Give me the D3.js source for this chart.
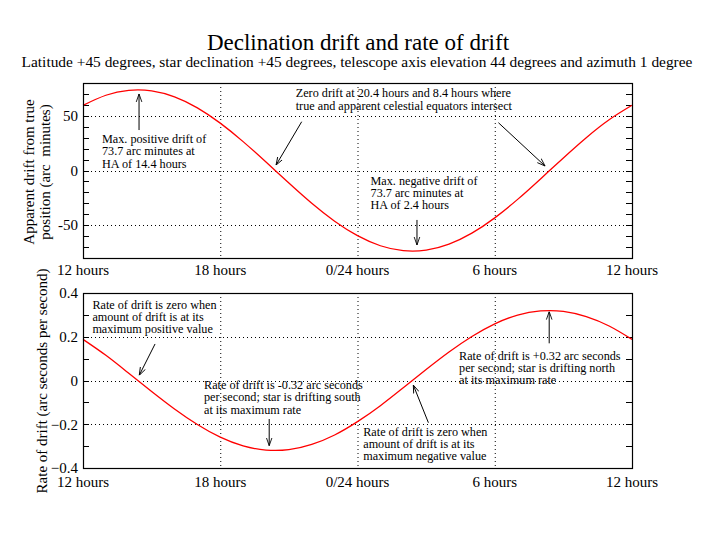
<!DOCTYPE html>
<html>
<head>
<meta charset="utf-8">
<script src="https://cdnjs.cloudflare.com/ajax/libs/d3/7.8.5/d3.min.js"></script>
<style>
    body { margin: 0; background: #fff; }
    svg text { font-family: "Liberation Serif", "Times New Roman", serif; fill: #000; white-space: pre; }
</style>
</head>
<body>
<div id="chart"></div>
<script>

// hour angle, unwrapped: 12 .. 36 (36 == 12 hours again)
var hours = [12, 13, 14, 15, 16, 17, 18, 19, 20, 21, 22, 23, 24,
             25, 26, 27, 28, 29, 30, 31, 32, 33, 34, 35, 36];

// apparent drift from true position (arc minutes)
var driftValues = [59.6, 68.8, 73.3, 72.8, 67.3, 57.3, 43.3, 26.4, 7.7, -11.5, -30.0, -46.4, -59.6,
                   -68.8, -73.3, -72.8, -67.3, -57.3, -43.3, -26.4, -7.7, 11.5, 30.0, 46.4, 59.6];

// rate of drift (arc seconds per second)
var rateValues = [0.188, 0.115, 0.033, -0.050, -0.130, -0.201, -0.259, -0.299, -0.318, -0.316, -0.292, -0.249, -0.188,
                  -0.115, -0.033, 0.050, 0.130, 0.201, 0.259, 0.299, 0.318, 0.316, 0.292, 0.249, 0.188];

var xTicks = [12, 18, 24, 30, 36];
var xTickLabels = ["12 hours", "18 hours", "0/24 hours", "6 hours", "12 hours"];

var driftTicks = [-50, 0, 50];
var driftMinorTicks = [-70, -60, -50, -40, -30, -20, -10, 0, 10, 20, 30, 40, 50, 60, 70];
var rateTicks = [-0.4, -0.2, 0, 0.2, 0.4];
var rateMinorTicks = [-0.3, -0.2, -0.1, 0, 0.1, 0.2, 0.3];

var titleText = "Declination drift and rate of drift";
var subtitleText = "Latitude +45 degrees, star declination +45 degrees, telescope axis elevation 44 degrees and azimuth 1 degree";


var W = 713, H = 551;

var svg = d3.select("#chart").append("svg")
    .attr("width", W)
    .attr("height", H);

// open v arrow head
svg.append("defs").append("marker")
    .attr("id", "arrow")
    .attr("viewBox", "0 0 10 10")
    .attr("refX", 10)
    .attr("refY", 5)
    .attr("markerWidth", 8)
    .attr("markerHeight", 8)
    .attr("markerUnits", "userSpaceOnUse")
    .attr("orient", "auto")
    .append("path")
    .attr("d", "M0,1.5 L10,5 L0,8.5")
    .attr("fill", "none")
    .attr("stroke", "#000")
    .attr("stroke-width", 1.1);

svg.append("text")
    .attr("x", 358)
    .attr("y", 50)
    .attr("text-anchor", "middle")
    .style("font-size", "23px")
    .text(titleText);

svg.append("text")
    .attr("x", 357)
    .attr("y", 67)
    .attr("text-anchor", "middle")
    .style("font-size", "15.4px")
    .text(subtitleText);


/**
 * one panel: frame, grid, ticks, curve and notes
 */
DriftPanel = function(_svg, _opts) {
    this.svg = _svg;
    this.opts = _opts;

    this.left = 83;
    this.right = 632;
    this.top = _opts.top;
    this.bottom = _opts.bottom;

    this.initVis();
};

DriftPanel.prototype.initVis = function() {
    var that = this;
    var o = this.opts;

    this.x = d3.scaleLinear().domain([12, 36]).range([this.left, this.right]);
    this.y = d3.scaleLinear().domain(o.domain).range([this.bottom, this.top]);

    this.g = this.svg.append("g");

    // dotted grid
    this.g.selectAll(".vgrid")
        .data([18, 24, 30])
        .enter().append("line")
        .attr("x1", function(d) { return that.x(d) + 0.5; })
        .attr("x2", function(d) { return that.x(d) + 0.5; })
        .attr("y1", this.top)
        .attr("y2", this.bottom)
        .attr("stroke", "#000")
        .attr("stroke-dasharray", "1,3");

    this.g.selectAll(".hgrid")
        .data(o.grid)
        .enter().append("line")
        .attr("x1", this.left)
        .attr("x2", this.right)
        .attr("y1", function(d) { return Math.round(that.y(d)) + 0.5; })
        .attr("y2", function(d) { return Math.round(that.y(d)) + 0.5; })
        .attr("stroke", "#000")
        .attr("stroke-dasharray", "1,3");

    // small inner ticks on both sides
    var ticks = this.g.selectAll(".mtick")
        .data(o.minor)
        .enter();
    ticks.append("line")
        .attr("x1", this.left)
        .attr("x2", this.left + 6)
        .attr("y1", function(d) { return Math.round(that.y(d)) + 0.5; })
        .attr("y2", function(d) { return Math.round(that.y(d)) + 0.5; })
        .attr("stroke", "#000");
    ticks.append("line")
        .attr("x1", this.right)
        .attr("x2", this.right - 6)
        .attr("y1", function(d) { return Math.round(that.y(d)) + 0.5; })
        .attr("y2", function(d) { return Math.round(that.y(d)) + 0.5; })
        .attr("stroke", "#000");

    // curve
    var pts = hours.map(function(h, i) { return [h, o.values[i]]; });
    var line = d3.line()
        .x(function(d) { return that.x(d[0]); })
        .y(function(d) { return that.y(d[1]); })
        .curve(d3.curveNatural);

    this.g.append("path")
        .datum(pts)
        .attr("d", line)
        .attr("fill", "none")
        .attr("stroke", "#ff0000")
        .attr("stroke-width", 1.3);

    // frame
    this.g.append("rect")
        .attr("x", this.left + 0.5)
        .attr("y", this.top + 0.5)
        .attr("width", this.right - this.left)
        .attr("height", this.bottom - this.top)
        .attr("fill", "none")
        .attr("stroke", "#000")
        .attr("stroke-width", 1.2);

    // y tick labels
    this.g.selectAll(".ylab")
        .data(o.ticks)
        .enter().append("text")
        .attr("x", this.left - 5)
        .attr("y", function(d) { return that.y(d); })
        .attr("dy", "0.35em")
        .attr("text-anchor", "end")
        .style("font-size", "15px")
        .text(o.format);

    // x tick labels
    this.g.selectAll(".xlab")
        .data(xTicks)
        .enter().append("text")
        .attr("x", function(d) { return that.x(d); })
        .attr("y", this.bottom + o.xLabelOffset)
        .attr("text-anchor", "middle")
        .style("font-size", "15px")
        .text(function(d, i) { return xTickLabels[i]; });

    // axis title (rotated)
    var yt = this.g.append("text")
        .attr("transform", "translate(" + o.titleX + "," + o.titleY + ") rotate(-90)")
        .attr("text-anchor", "middle")
        .style("font-size", "15px");
    o.title.forEach(function(t, i) {
        yt.append("tspan")
            .attr("x", 0)
            .attr("dy", i == 0 ? 0 : 16)
            .text(t);
    });

    this.updateVis();
};

DriftPanel.prototype.updateVis = function() {
    var that = this;

    this.opts.notes.forEach(function(n) {
        var t = that.g.append("text")
            .attr("x", that.x(n.h))
            .attr("y", that.y(n.v))
            .style("font-size", "12.2px");
        n.lines.forEach(function(s, i) {
            t.append("tspan")
                .attr("x", that.x(n.h))
                .attr("dy", i == 0 ? 0 : 12.2)
                .text(s);
        });
    });

    this.opts.arrows.forEach(function(a) {
        that.g.append("line")
            .attr("x1", that.x(a[0]))
            .attr("y1", that.y(a[1]))
            .attr("x2", that.x(a[2]))
            .attr("y2", that.y(a[3]))
            .attr("stroke", "#000")
            .attr("stroke-width", 1)
            .attr("marker-end", "url(#arrow)");
    });
};


var driftPanel = new DriftPanel(svg, {
    top: 83,
    bottom: 258,
    domain: [-80, 80],
    values: driftValues,
    grid: driftTicks,
    minor: driftMinorTicks,
    ticks: driftTicks,
    format: function(d) { return d; },
    xLabelOffset: 17,
    title: ["Apparent drift from true", "position (arc  minutes)"],
    titleX: 34,
    titleY: 172,
    notes: [
        {h: 12.83, v: 25, lines: ["Max. positive drift of", "73.7 arc minutes at", "HA of 14.4 hours"]},
        {h: 21.3, v: 66.9, lines: ["Zero drift at 20.4 hours and 8.4 hours where", "true and apparent celestial equators intersect"]},
        {h: 24.57, v: -13.3, lines: ["Max. negative drift of", "73.7 arc minutes at", "HA of 2.4 hours"]}
    ],
    arrows: [
        [14.45, 37, 14.45, 70],
        [21.56, 44.6, 20.44, 5.0],
        [30.16, 43.7, 32.2, 4.1],
        [26.6, -45.2, 26.6, -68.1]
    ]
});

var ratePanel = new DriftPanel(svg, {
    top: 293,
    bottom: 468,
    domain: [-0.4, 0.4],
    values: rateValues,
    grid: [-0.2, 0, 0.2],
    minor: rateMinorTicks,
    ticks: rateTicks,
    format: function(d) { return d == 0 ? "0" : d3.format(".1f")(d); },
    xLabelOffset: 19,
    title: ["Rate of drift (arc seconds per second)"],
    titleX: 47,
    titleY: 381,
    notes: [
        {h: 12.41, v: 0.327, lines: ["Rate of drift is zero when", "amount of drift is at its", "maximum positive value"]},
        {h: 17.29, v: -0.040, lines: ["Rate of drift is -0.32 arc seconds", "per second; star is drifting south", "at its maximum rate"]},
        {h: 28.44, v: 0.094, lines: ["Rate of drift is +0.32 arc seconds", "per second; star is drifting north", "at its maximum rate"]},
        {h: 24.25, v: -0.252, lines: ["Rate of drift is zero when", "amount of drift is at its", "maximum negative value"]}
    ],
    arrows: [
        [15.15, 0.167, 14.46, 0.024],
        [20.14, -0.176, 20.14, -0.298],
        [32.38, 0.170, 32.38, 0.315],
        [27.10, -0.193, 26.44, -0.021]
    ]
});

</script>
</body>
</html>
